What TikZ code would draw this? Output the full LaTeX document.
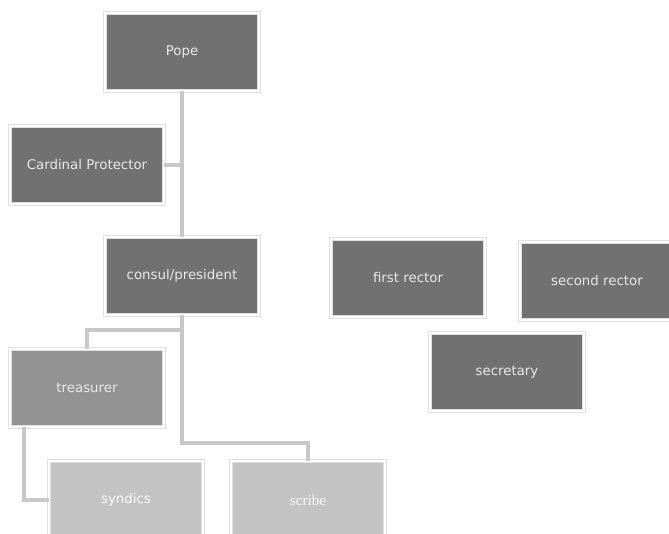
\documentclass[tikz,border=0pt]{standalone}
\usepackage{fontspec}
\newfontfamily\boxfont{DejaVu Sans}
\newfontfamily\serifbox{Liberation Serif}
\usepackage{tikz}
\usetikzlibrary{positioning}
\usetikzlibrary{calc}

\definecolor{darkbox}{HTML}{717171}
\definecolor{midbox}{HTML}{939393}
\definecolor{lightbox}{HTML}{C3C3C3}
\definecolor{linkgray}{HTML}{C8C8C8}
\definecolor{boxtext}{HTML}{E8E8E8}

\tikzset{
  office/.style={rectangle, fill=darkbox, draw=black!12, double=white,
    double distance=1.2pt, minimum width=3.08cm, minimum height=1.56cm,
    inner sep=0pt, text=boxtext, font=\boxfont\fontsize{7.6}{9}\selectfont},
  officemid/.style={office, fill=midbox},
  officelow/.style={office, fill=lightbox, text=white!92!lightbox},
  link/.style={draw=linkgray, line width=2.2pt},
}

\begin{document}
\begin{tikzpicture}
\useasboundingbox (0,0) rectangle (13.38,-10.68);

% chain of the confraternity
\node[office] (pope) at (3.64,-1.04) {Pope};
\node[office] (cardinal) at (1.74,-3.30) {Cardinal Protector};
\node[office] (consul) at (3.64,-5.52) {consul/president};
\node[officemid] (treasurer) at (1.74,-7.76) {treasurer};
\node[officelow] (syndics) at (2.52,-10.0) {syndics};
\node[officelow, font=\serifbox\fontsize{8.6}{10}\selectfont] (scribe) at (6.16,-10.0) {scribe};

% officers on their own
\node[office] (rector1) at (8.16,-5.56) {first rector};
\node[office] (rector2) at (11.94,-5.62) {second rector};
\node[office] (secretary) at (10.14,-7.44) {secretary};

\coordinate (split) at ($(consul.south)+(0,-0.3)$);
\coordinate (bend) at (consul.south |- 0,-8.86);
\coordinate (tdrop) at ([xshift=0.28cm]treasurer.south west);

\draw[link] (pope.south) -- (consul.north);
\draw[link] (cardinal.east) -- (cardinal.east -| pope.south);
\draw[link] (consul.south) -- (split) -| (treasurer.north);
\draw[link] (split) -- (bend) -| (scribe.north);
\draw[link] (tdrop) |- (syndics.west);
\end{tikzpicture}
\end{document}
